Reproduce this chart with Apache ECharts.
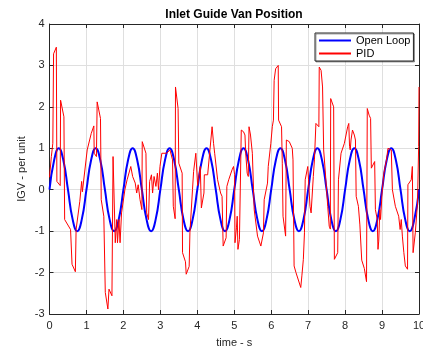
<!DOCTYPE html>
<html>
<head>
<meta charset="utf-8">
<script src="https://cdn.jsdelivr.net/npm/echarts@6/dist/echarts.min.js"></script>
<style>
html,body{margin:0;padding:0;background:#fff;overflow:hidden;}
#chart{width:423px;height:350px;}
</style>
</head>
<body>
<div id="chart"></div>
<script>
// ---- data ----
var titleText = 'Inlet Guide Van Position';
var xName = 'time - s';
var yName = 'IGV - per unit';
var seriesNames = ['Open Loop', 'PID'];
var xTicks = [0,1,2,3,4,5,6,7,8,9,10];
var yTicks = [-3,-2,-1,0,1,2,3,4];

var olStep = 0.125;
var olValues = [
  0, 0.71, 1, 0.71, 0, -0.71, -1, -0.71,
  0, 0.71, 1, 0.71, 0, -0.71, -1, -0.71,
  0, 0.71, 1, 0.71, 0, -0.71, -1, -0.71,
  0, 0.71, 1, 0.71, 0, -0.71, -1, -0.71,
  0, 0.71, 1, 0.71, 0, -0.71, -1, -0.71,
  0, 0.71, 1, 0.71, 0, -0.71, -1, -0.71,
  0, 0.71, 1, 0.71, 0, -0.71, -1, -0.71,
  0, 0.71, 1, 0.71, 0, -0.71, -1, -0.71,
  0, 0.71, 1, 0.71, 0, -0.71, -1, -0.71,
  0, 0.71, 1, 0.71, 0, -0.71, -1, -0.71,
  0
];

// PID response (time, value)
var pidTime = [
  0.00,0.05,0.09,0.11,0.185,0.20,0.29,0.30,0.39,0.41,0.57,0.61,0.70,0.72,0.82,0.87,0.89,1.02,1.13,1.20,
  1.21,1.27,1.29,1.38,1.40,1.47,1.51,1.58,1.61,1.69,1.71,1.72,1.77,1.78,1.82,1.84,1.88,1.91,1.95,2.04,
  2.10,2.20,2.25,2.32,2.36,2.40,2.45,2.50,2.51,2.61,2.63,2.68,2.70,2.71,2.76,2.79,2.83,2.88,2.92,2.95,
  2.99,3.04,3.17,3.26,3.33,3.35,3.40,3.41,3.48,3.50,3.59,3.60,3.68,3.70,3.75,3.78,3.80,3.87,3.90,3.96,
  3.99,4.01,4.03,4.08,4.11,4.18,4.19,4.24,4.28,4.31,4.40,4.44,4.47,4.55,4.63,4.67,4.70,4.74,4.78,4.80,
  4.85,4.94,4.98,5.01,5.02,5.06,5.08,5.10,5.14,5.17,5.19,5.25,5.29,5.31,5.35,5.38,5.40,5.44,5.49,5.54,
  5.63,5.72,5.79,5.81,5.90,5.92,5.99,6.03,6.06,6.08,6.12,6.19,6.20,6.28,6.30,6.32,6.39,6.41,6.49,6.57,
  6.59,6.62,6.67,6.72,6.80,6.83,6.87,6.90,6.92,6.99,7.01,7.05,7.08,7.12,7.14,7.17,7.21,7.26,7.29,7.30,
  7.35,7.39,7.42,7.48,7.53,7.57,7.60,7.61,7.69,7.71,7.75,7.80,7.82,7.89,7.98,8.07,8.10,8.12,8.14,8.16,
  8.20,8.25,8.28,8.30,8.36,8.40,8.45,8.52,8.58,8.60,8.65,8.69,8.71,8.76,8.80,8.82,8.87,8.89,8.91,8.94,
  8.96,9.00,9.05,9.12,9.16,9.21,9.25,9.28,9.36,9.45,9.49,9.52,9.55,9.59,9.63,9.69,9.70,9.79,9.82,9.84,
  9.90,9.96,9.99,10.00
];
var pidValue = [
  0.30,0.80,1.12,3.28,3.44,0.20,0.10,2.16,1.76,-0.72,-0.96,-1.80,-1.98,-0.96,-0.28,0.20,-0.05,0.96,1.36,1.54,
  0.88,0.80,2.12,1.72,-0.24,-0.64,-2.48,-2.88,-2.40,-2.56,-2.55,0.80,0.84,-1.28,-0.72,-1.28,-0.72,-1.28,-0.56,0.00,
  0.24,0.56,0.32,0.16,-0.08,0.12,-0.24,-0.48,1.16,0.88,-0.56,-0.72,-0.70,0.20,0.36,-0.08,0.32,0.08,0.40,0.00,
  0.56,0.88,0.88,0.96,0.72,-0.40,-0.70,2.48,1.96,0.64,0.40,-1.52,-1.74,-2.04,-2.03,-1.85,-1.04,0.00,0.44,0.88,
  0.92,0.10,0.24,0.56,-0.44,-0.08,0.36,0.40,0.36,0.40,1.52,1.12,0.88,0.24,-0.08,-0.16,-1.36,-1.35,-1.16,0.08,
  0.24,0.48,0.56,0.36,-1.28,-0.92,-0.64,-1.44,-1.20,-1.20,1.44,1.40,1.32,0.88,0.40,0.32,1.52,1.32,0.88,-0.48,
  -1.12,-1.36,-1.04,-0.24,0.16,0.56,1.12,1.52,1.68,2.64,2.92,3.00,1.68,1.52,0.64,-0.64,-1.12,1.20,1.16,1.00,
  0.72,-1.84,-2.00,-2.00,-2.36,-2.08,-1.68,-1.04,0.24,0.56,0.24,-0.40,-0.56,-0.52,0.32,0.72,1.60,1.64,1.52,2.96,
  2.88,2.48,0.96,0.24,-0.40,-0.88,-0.95,2.20,2.00,-1.68,-1.72,-1.52,0.24,0.88,1.12,1.52,1.60,1.04,0.96,1.20,
  1.44,1.32,1.20,-0.16,-0.40,-0.85,-1.70,-1.90,-2.22,1.96,1.80,1.72,0.52,0.52,0.68,-0.48,-0.72,-1.44,-1.24,-0.48,
  -0.72,-0.08,0.40,0.72,1.00,1.04,0.96,0.00,-0.40,-0.64,-0.96,-0.72,-1.12,-1.52,-1.84,-1.92,0.12,0.24,0.56,-1.52,
  -1.04,-0.32,1.04,2.48
];

// ---- build ----
var olData = olValues.map(function (v, i) { return [i * olStep, v]; });
var pidData = pidTime.map(function (t, i) { return [t, pidValue[i]]; });

var FONT = 'Liberation Sans, Arial, Helvetica, sans-serif';
var AX = '#262626';
var GRID = '#dfdfdf';

var chart = echarts.init(document.getElementById('chart'), null, {renderer: 'canvas', width: 423, height: 350});

function xAx(pos, main) {
  return {
    type: 'value', position: pos, min: xTicks[0], max: xTicks[xTicks.length - 1], interval: 1,
    axisLine: {show: true, onZero: false, lineStyle: {color: AX, width: 1}},
    axisTick: {show: true, inside: true, length: 4, lineStyle: {color: AX}},
    axisLabel: {show: main, color: AX, fontSize: 11, fontFamily: FONT, margin: 6},
    splitLine: {show: main, lineStyle: {color: GRID, width: 1}},
    name: main ? xName : '', nameLocation: 'middle', nameGap: 23, nameMoveOverlap: false,
    nameTextStyle: {color: AX, fontSize: 11, fontFamily: FONT}
  };
}
function yAx(pos, main) {
  return {
    type: 'value', position: pos, min: yTicks[0], max: yTicks[yTicks.length - 1], interval: 1,
    axisLine: {show: true, onZero: false, lineStyle: {color: AX, width: 1}},
    axisTick: {show: true, inside: true, length: 4, lineStyle: {color: AX}},
    axisLabel: {show: main, color: AX, fontSize: 11, fontFamily: FONT, margin: 5},
    splitLine: {show: main, lineStyle: {color: GRID, width: 1}},
    name: main ? yName : '', nameLocation: 'middle', nameGap: 22, nameMoveOverlap: false,
    nameTextStyle: {color: AX, fontSize: 11, fontFamily: FONT}
  };
}

chart.setOption({
  animation: false,
  backgroundColor: '#ffffff',
  grid: {left: 49.5, top: 24, width: 369.5, height: 290, containLabel: false, outerBoundsMode: 'none'},
  graphic: [{
    type: 'text', x: 234, y: 15,
    style: {text: titleText, font: 'bold 12px ' + FONT, fill: '#000', textAlign: 'center', textVerticalAlign: 'middle'}
  }],
  legend: {
    orient: 'vertical', left: 315, top: 33,
    data: seriesNames,
    backgroundColor: '#fff', borderColor: AX, borderWidth: 1,
    padding: [2, 3, 2, 3], itemGap: 2, itemWidth: 32, itemHeight: 12,
    itemStyle: {opacity: 0},
    shadowColor: 'rgba(0,0,0,0.35)', shadowOffsetX: 1, shadowOffsetY: 1, shadowBlur: 0,
    textStyle: {color: '#000', fontSize: 11, fontFamily: FONT}
  },
  xAxis: [xAx('bottom', true), xAx('top', false)],
  yAxis: [yAx('left', true), yAx('right', false)],
  series: [
    {name: seriesNames[0], type: 'line', data: olData, smooth: 0.5, showSymbol: false, symbol: 'none',
     lineStyle: {color: '#0000ff', width: 2}, itemStyle: {color: '#0000ff'}, z: 2},
    {name: seriesNames[1], type: 'line', data: pidData, smooth: false, showSymbol: false, symbol: 'none',
     lineStyle: {color: '#ff0000', width: 1}, itemStyle: {color: '#ff0000'}, z: 3}
  ]
});
</script>
</body>
</html>
